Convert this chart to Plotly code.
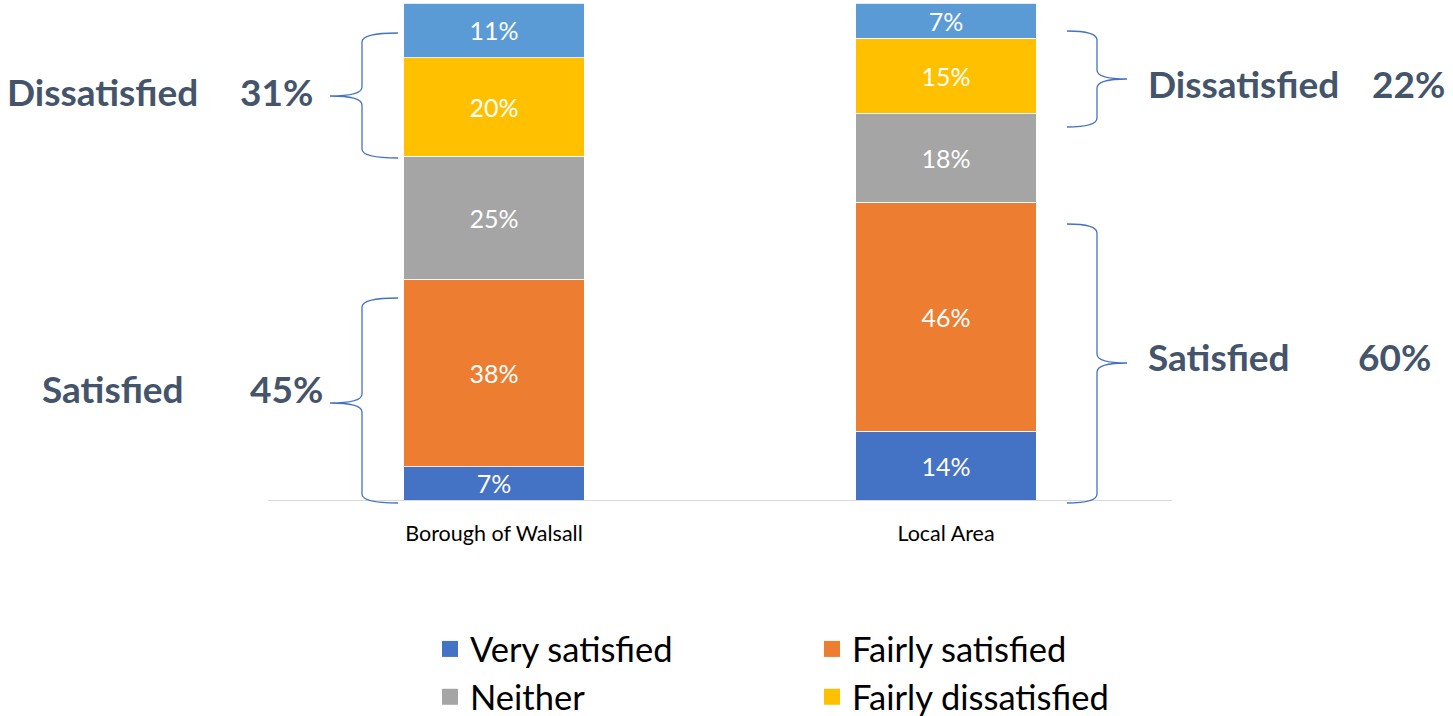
import plotly.graph_objects as go

# ---- data ----
categories = ["Borough of Walsall", "Local Area"]
series_names = ["Very satisfied", "Fairly satisfied", "Neither", "Fairly dissatisfied", "Very dissatisfied"]
very_satisfied = [6.7, 13.8]
fairly_satisfied = [37.7, 46.1]
neither = [24.8, 17.9]
fairly_dissatisfied = [19.8, 15.1]
very_dissatisfied = [11.0, 7.1]
series_values = [very_satisfied, fairly_satisfied, neither, fairly_dissatisfied, very_dissatisfied]
colors = ["#4472C4", "#ED7D31", "#A5A5A5", "#FFC000", "#5B9BD5"]
show_in_legend = [True, True, True, True, False]

summary_labels = [
    ("Dissatisfied", "31%"),
    ("Satisfied", "45%"),
    ("Dissatisfied", "22%"),
    ("Satisfied", "60%"),
]

# ---- layout geometry (pixels) ----
W, H = 1453, 716
L, R, T, B = 268, 1453 - 1172, 3, 716 - 500
PW, PH = W - L - R, H - T - B


def px(x):
    return (x - L) / PW


def py(y):
    return (H - B - y) / PH


FONT = "Lato"
LABEL_COLOR = "#44546A"
BRACE_COLOR = "#4472C4"

fig = go.Figure()
for name, vals, col, sl in zip(series_names, series_values, colors, show_in_legend):
    fig.add_trace(go.Bar(
        x=categories, y=vals, name=name,
        marker=dict(color=col, line=dict(color="white", width=0.8)),
        texttemplate="%{y:.0f}%", textposition="inside", insidetextanchor="middle",
        textangle=0, constraintext="none",
        textfont=dict(color="white", size=25, family=FONT),
        showlegend=False, hoverinfo="skip",
    ))
    if sl:
        fig.add_trace(go.Scatter(
            x=[None], y=[None], mode="markers", name=name,
            marker=dict(symbol="square", size=16, color=col),
            showlegend=True,
        ))


def brace_path(xt, xs, xp, yt, ym, yb, r=9):
    # curly brace with tips at xt, spine at xs, point at xp (all pixels)
    pts = [
        f"M {px(xt)},{py(yt)}",
        f"Q {px(xs)},{py(yt)} {px(xs)},{py(yt + r)}",
        f"L {px(xs)},{py(ym - r)}",
        f"Q {px(xs)},{py(ym)} {px(xp)},{py(ym)}",
        f"Q {px(xs)},{py(ym)} {px(xs)},{py(ym + r)}",
        f"L {px(xs)},{py(yb - r)}",
        f"Q {px(xs)},{py(yb)} {px(xt)},{py(yb)}",
    ]
    return " ".join(pts)


braces = [
    (398, 362, 330, 33, 96, 158),
    (398, 362, 330, 298, 403, 503),
    (1067, 1097, 1127, 31, 79, 127),
    (1067, 1097, 1127, 224, 363, 503),
]
for b in braces:
    fig.add_shape(type="path", path=brace_path(*b), xref="paper", yref="paper",
                  line=dict(color=BRACE_COLOR, width=1.3))

label_pos = [
    (5, 238, 92),
    (40, 248, 388),
    (1146, 1370, 84),
    (1146, 1356, 356),
]
for (word, pct), (xw, xpct, yc) in zip(summary_labels, label_pos):
    for txt, xx in ((word, xw), (pct, xpct)):
        fig.add_annotation(text=f"<b>{txt}</b>", x=px(xx), y=py(yc), xref="paper", yref="paper",
                           xanchor="left", yanchor="middle", showarrow=False,
                           font=dict(family=FONT, size=37, color=LABEL_COLOR))

fig.update_layout(
    width=W, height=H,
    margin=dict(l=L, r=R, t=T, b=B, autoexpand=False),
    barmode="stack", bargap=0.6,
    plot_bgcolor="white", paper_bgcolor="white",
    font=dict(family=FONT, color="#000000"),
    showlegend=True,
    legend=dict(orientation="h", traceorder="normal",
                x=px(430), xanchor="left", y=py(620), yanchor="top",
                entrywidth=337, entrywidthmode="pixels",
                font=dict(family=FONT, size=34.5, color="#000000"),
                itemclick=False, itemdoubleclick=False, tracegroupgap=0),
    xaxis=dict(showline=True, linecolor="#D9D9D9", linewidth=1, ticks="outside", ticklen=14,
               tickcolor="rgba(0,0,0,0)", tickfont=dict(family=FONT, size=21.5, color="#000000"),
               showgrid=False, zeroline=False, fixedrange=True),
    yaxis=dict(visible=False, range=[0, 100], showgrid=False, zeroline=False, fixedrange=True),
)

fig.write_html("out.html", config={"displayModeBar": False},
               post_script="document.body.style.margin='0px';")
